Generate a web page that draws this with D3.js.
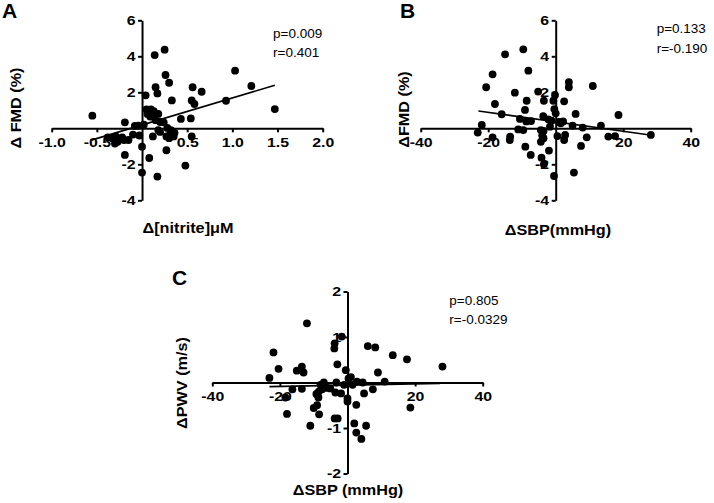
<!DOCTYPE html>
<html><head><meta charset="utf-8">
<script src="https://cdn.jsdelivr.net/npm/d3@7"></script>
<style>body{margin:0;background:#fff} svg{display:block} text{font-family:'Liberation Sans', Arial, Helvetica, sans-serif}</style>
</head><body>
<svg id="chart" width="714" height="503"></svg>
<script>
// ---------- DATA ----------
const pointsA = [
  [-0.55,0.70],[-0.19,0.33],[0.14,4.07],[0.25,4.37],[0.26,2.96],[0.30,2.53],[0.15,2.28],
  [0.17,1.94],[0.04,1.83],[0.33,1.55],[0.56,2.28],[0.66,2.03],[0.55,1.55],[0.58,1.35],
  [0.93,1.53],[1.03,3.20],[1.21,2.35],[1.47,1.07],[0.05,1.05],[0.10,1.05],[0.13,0.95],
  [0.06,0.80],[0.09,0.65],[0.12,0.70],[0.18,0.80],[0.15,0.45],[0.20,0.35],[0.43,0.52],
  [0.54,0.55],[-0.08,0.13],[-0.04,0.15],[0.02,0.20],[0.24,0.33],[0.28,0.02],[0.32,-0.10],
  [0.36,-0.25],[0.31,-0.35],[0.27,-0.45],[0.35,-0.45],[0.30,-0.55],[-0.29,-0.45],[-0.33,-0.55],
  [-0.30,-0.85],[-0.27,-0.75],[-0.20,-0.65],[-0.15,-0.65],[-0.22,-0.50],[-0.10,-0.35],
  [-0.03,-0.40],[0.12,-0.45],[0.20,-0.20],[0.18,-0.10],[0.55,-0.45],[-0.19,-1.48],[0.08,-1.65],
  [0.27,-1.22],[0.48,-2.07],[0.00,-2.46],[0.17,-2.68],[0.00,-1.02],[-0.38,-0.50]
];
const fitA = [[-0.57,-0.67],[1.47,2.39]];
const xTicksA = [-1.0,-0.5,0.5,1.0,1.5,2.0];
const yTicksA = [-4,-2,2,4,6];

const pointsB = [
  [-15.0,4.11],[-9.6,4.39],[-8.1,3.2],[-18.7,3.0],[-20.6,2.28],[-12.1,1.98],[-5.2,2.04],
  [-8.6,1.53],[-18.0,1.35],[-3.5,1.53],[-0.2,1.85],[-0.7,1.53],[2.5,1.5],[3.9,2.56],[3.9,2.28],
  [11.0,2.35],[-9.1,1.02],[-16.0,0.78],[-0.4,1.07],[0.0,0.83],[5.9,0.8],[18.6,0.74],[-3.7,0.68],
  [-10.6,0.52],[-8.7,0.38],[-7.3,0.4],[-2.2,0.5],[-1.2,0.42],[1.0,0.35],[2.2,0.38],[1.5,0.28],
  [5.0,0.15],[8.0,0.04],[13.4,0.15],[-21.9,0.19],[-23.1,-0.24],[-18.7,-0.5],[-13.5,-0.46],
  [-13.6,-0.65],[-11.1,-0.06],[-9.6,-0.1],[-4.4,-0.1],[-3.6,-0.15],[-4.0,-0.4],[-3.6,-0.55],
  [-4.4,-0.75],[-1.7,0.09],[0.5,-0.43],[2.8,-0.37],[2.5,-0.65],[9.2,-0.5],[15.6,-0.46],
  [17.6,-0.43],[28.2,-0.37],[-9.0,-1.02],[-7.4,-1.48],[-2.0,-1.24],[-4.2,-1.63],[-3.5,-2.0],
  [-0.5,-2.65],[5.4,-2.46],[7.5,-0.98]
];
const fitB = [[-22.9,0.96],[27.9,-0.37]];
const xTicksB = [-40,-20,20,40];
const yTicksB = [-4,-2,2,4,6];

const pointsC = [
  [-12.0,1.30],[-1.7,1.01],[-3.8,0.86],[-3.9,0.75],[6.0,0.80],[8.2,0.77],[13.4,0.60],[17.6,0.51],
  [28.1,0.35],[-21.9,0.66],[-20.4,0.30],[-23.1,0.10],[-15.0,0.26],[-13.5,0.35],[-13.0,0.22],
  [-3.0,0.40],[-0.5,0.27],[9.0,0.22],[0.3,0.09],[1.0,0.12],[2.8,0.02],[4.5,0.0],[11.0,0.02],
  [-16.3,-0.15],[-13.5,-0.14],[-18.4,-0.33],[-8.0,-0.05],[-7.0,0.0],[-7.5,-0.15],[-8.5,-0.20],
  [-6.0,-0.12],[-5.1,-0.13],[-3.3,0.0],[-1.9,-0.24],[-3.6,-0.22],[0.0,-0.35],[0.0,-0.42],
  [4.9,-0.24],[7.5,-0.15],[2.6,-0.49],[-8.6,-0.33],[-9.0,-0.50],[-10.0,-0.56],[-8.4,-0.70],
  [-17.9,-0.69],[-11.0,-0.95],[-3.8,-0.79],[-2.9,-0.79],[2.0,-0.90],[5.5,-0.95],[2.6,-1.10],
  [4.1,-1.24],[18.6,-0.55],[-1.0,-0.05],[1.5,-0.05],[-9.2,-0.25]
];
const fitC = [[-23.1,-0.09],[27.4,-0.02]];
const xTicksC = [-40,-20,20,40];
const yTicksC = [-2,-1,1,2];

const panelLetters = ["A","B","C"];
const xTitles = ["Δ[nitrite]μM","ΔSBP(mmHg)","ΔSBP (mmHg)"];
const yTitles = ["Δ FMD (%)","ΔFMD (%)","ΔPWV (m/s)"];
const statsP = ["p=0.009","p=0.133","p=0.805"];
const statsR = ["r=0.401","r=-0.190","r=-0.0329"];

// ---------- LAYOUT ----------
const FONT = "'Liberation Sans', Arial, Helvetica, sans-serif";
const svg = d3.select("#chart");

const panels = [
  {pts: pointsA, fit: fitA, xTicks: xTicksA, yTicks: yTicksA, xFmt: d => d.toFixed(1),
   xDomain: [-1,2], xRange: [51.7,322.7], yDomain: [-4,6], yRange: [200.3,20.3],
   letter: [2,18.3], xTitle: [188,233.3], yTitle: [21,108], stats: [273,37.5,57]},
  {pts: pointsB, fit: fitB, xTicks: xTicksB, yTicks: yTicksB, xFmt: d => String(d),
   xDomain: [-40,40], xRange: [420.7,690.7], yDomain: [-4,6], yRange: [200.3,20.3],
   letter: [400,18.3], xTitle: [558,235], yTitle: [408.5,109.5], stats: [656.7,33,52.7]},
  {pts: pointsC, fit: fitC, xTicks: xTicksC, yTicks: yTicksC, xFmt: d => String(d),
   xDomain: [-40,40], xRange: [212.3,482.7], yDomain: [-2,2], yRange: [473.5,291.5],
   letter: [172,285], xTitle: [348,495], yTitle: [187,383], stats: [449.3,305,324]}
];

const TS = 1.22; // horizontal stretch of tick labels
const TT = 1.12; // horizontal stretch of titles

panels.forEach((cfg, i) => {
  const x = d3.scaleLinear().domain(cfg.xDomain).range(cfg.xRange);
  const y = d3.scaleLinear().domain(cfg.yDomain).range(cfg.yRange);
  const g = svg.append("g");

  const gx = g.append("g").attr("transform", `translate(0,${y(0)})`)
    .call(d3.axisBottom(x).tickValues(cfg.xTicks).tickFormat(cfg.xFmt)
      .tickSize(4).tickSizeOuter(0).tickPadding(5));
  const gy = g.append("g").attr("transform", `translate(${x(0)},0)`)
    .call(d3.axisLeft(y).tickValues(cfg.yTicks).tickFormat(d => String(d))
      .tickSize(4).tickSizeOuter(0).tickPadding(2));

  [gx, gy].forEach(a => {
    a.attr("font-family", null).attr("font-size", null);
    a.select(".domain").attr("stroke", "#000").attr("stroke-width", 2);
    a.selectAll(".tick line").attr("stroke", "#000").attr("stroke-width", 2);
    a.selectAll(".tick text").attr("fill", "#000")
      .style("font-family", FONT).style("font-weight", "bold").style("font-size", "13px")
      .attr("transform", `scale(${TS},1)`);
  });
  gy.selectAll(".tick text").attr("x", -6.5 / TS);

  // regression line
  g.append("path").datum(cfg.fit)
    .attr("d", d3.line().x(d => x(d[0])).y(d => y(d[1])))
    .attr("stroke", "#000").attr("stroke-width", 1.6).attr("fill", "none");

  // points
  g.append("g").selectAll("circle").data(cfg.pts).join("circle")
    .attr("cx", d => x(d[0])).attr("cy", d => y(d[1])).attr("r", 3.9).attr("fill", "#000");

  // panel letter
  g.append("text").attr("x", cfg.letter[0]).attr("y", cfg.letter[1])
    .style("font-family", FONT).style("font-weight", "bold").style("font-size", "21px")
    .text(panelLetters[i]);

  // x title
  g.append("text").attr("transform", `translate(${cfg.xTitle[0]},${cfg.xTitle[1]}) scale(${TT},1)`)
    .attr("text-anchor", "middle")
    .style("font-family", FONT).style("font-weight", "bold").style("font-size", "14.5px")
    .text(xTitles[i]);

  // y title
  g.append("text").attr("transform", `translate(${cfg.yTitle[0]},${cfg.yTitle[1]}) rotate(-90) scale(${TT},1)`)
    .attr("text-anchor", "middle")
    .style("font-family", FONT).style("font-weight", "bold").style("font-size", "14.5px")
    .text(yTitles[i]);

  // stats
  g.append("text").attr("x", cfg.stats[0]).attr("y", cfg.stats[1])
    .style("font-family", FONT).style("font-size", "13.5px").text(statsP[i]);
  g.append("text").attr("x", cfg.stats[0]).attr("y", cfg.stats[2])
    .style("font-family", FONT).style("font-size", "13.5px").text(statsR[i]);
});
</script>
</body></html>
